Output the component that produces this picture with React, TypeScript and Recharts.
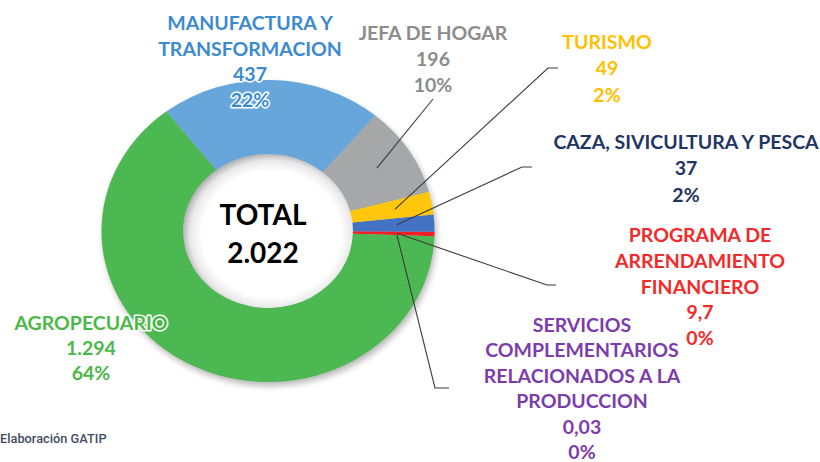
import React from 'react';
import { PieChart, Pie, Cell, Label } from 'recharts';

// ---- data ----
const categories = [
  'SERVICIOS COMPLEMENTARIOS RELACIONADOS A LA PRODUCCION',
  'PROGRAMA DE ARRENDAMIENTO FINANCIERO',
  'CAZA, SIVICULTURA Y PESCA',
  'TURISMO',
  'JEFA DE HOGAR',
  'MANUFACTURA Y TRANSFORMACION',
  'AGROPECUARIO',
];
const values = [0.03, 9.7, 37, 49, 196, 437, 1294];
const valueLabels = ['0,03', '9,7', '37', '49', '196', '437', '1.294'];
const percentLabels = ['0%', '0%', '2%', '2%', '10%', '22%', '64%'];
const totalLabel = 'TOTAL';
const totalValue = '2.022';
const sourceNote = 'Elaboración GATIP';

// ---- styles / layout ----
const sliceColors = ['#7B3AA8', '#F21F24', '#4472C4', '#FFC60B', '#A6A7A8', '#66A6DB', '#4CB851'];
const textColors = ['#7D3CAB', '#F22A2A', '#1F3564', '#FFC000', '#8C8C8C', '#3B8AD0', '#4CB848'];
const titleLines = [
  ['SERVICIOS', 'COMPLEMENTARIOS', 'RELACIONADOS A LA', 'PRODUCCION'],
  ['PROGRAMA DE', 'ARRENDAMIENTO', 'FINANCIERO'],
  ['CAZA, SIVICULTURA Y PESCA'],
  ['TURISMO'],
  ['JEFA DE HOGAR'],
  ['MANUFACTURA Y', 'TRANSFORMACION'],
  ['AGROPECUARIO'],
];
const labelPos = [
  { x: 582, y: 332, lh: 25.4, leader: [[435, 388], [449, 388]] },
  { x: 700, y: 242, lh: 25.8, leader: [[547, 285], [556, 285]] },
  { x: 686, y: 149, lh: 26.3, leader: [[522, 167], [532, 167]] },
  { x: 607, y: 49, lh: 26.3, leader: [[548, 68], [558, 68]] },
  { x: 433, y: 40, lh: 25.8, leader: [[433, 99]] },
  { x: 250, y: 30, lh: 25.7, leader: null },
  { x: 91, y: 330, lh: 25, leader: null },
];
const haloFrom = [99, 99, 99, 99, 99, 2, 0];

const CX = 268;
const CY = 231;
const R_IN = 77;
const R_OUT = 151;
const SX = 1.103; // horizontal stretch of the ring
const RAD = Math.PI / 180;
const FONT = 'Lato, "Noto Sans", sans-serif';
const FS = 19.5;

const data = categories.map((name, i) => ({ name, value: values[i] }));

const pt = (cx: number, cy: number, r: number, a: number) => [
  cx + SX * r * Math.cos(a * RAD),
  cy - r * Math.sin(a * RAD),
];

const EllipseSector = (props: any) => {
  const { cx, cy, innerRadius, outerRadius, startAngle, endAngle, fill } = props;
  const large = Math.abs(endAngle - startAngle) > 180 ? 1 : 0;
  const sweepOut = endAngle > startAngle ? 0 : 1;
  const sweepIn = sweepOut ? 0 : 1;
  const [x1, y1] = pt(cx, cy, outerRadius, startAngle);
  const [x2, y2] = pt(cx, cy, outerRadius, endAngle);
  const [x3, y3] = pt(cx, cy, innerRadius, endAngle);
  const [x4, y4] = pt(cx, cy, innerRadius, startAngle);
  const d = `M${x1},${y1} A${SX * outerRadius},${outerRadius} 0 ${large} ${sweepOut} ${x2},${y2} L${x3},${y3} A${SX * innerRadius},${innerRadius} 0 ${large} ${sweepIn} ${x4},${y4} Z`;
  return <path d={d} fill={fill} stroke="none" />;
};

const renderLabel = (props: any) => {
  const { cx, cy, midAngle, index } = props;
  const pos = labelPos[index];
  const lines = [...titleLines[index], valueLabels[index], percentLabels[index]];
  const color = textColors[index];
  let leader = null;
  if (pos.leader) {
    const [sx, sy] = pt(cx, cy, 117, midAngle);
    const pts = [[sx, sy], ...pos.leader].map((p) => p.join(',')).join(' ');
    leader = <polyline points={pts} fill="none" stroke="#3a3a3a" strokeWidth={1.1} />;
  }
  return (
    <g key={`lbl-${index}`}>
      {leader}
      {lines.map((t, k) => {
        const halo = k >= haloFrom[index];
        return (
          <text
            key={k}
            x={pos.x}
            y={pos.y + k * pos.lh}
            textAnchor="middle"
            fill={color}
            fontFamily={FONT}
            fontWeight={700}
            fontSize={FS}
            stroke={halo ? '#ffffff' : 'none'}
            strokeWidth={halo ? 3 : 0}
            strokeLinejoin="round"
            paintOrder="stroke"
          >
            {t}
          </text>
        );
      })}
    </g>
  );
};

const CenterLabel = (props: any) => {
  const vb = props.viewBox || {};
  const cx = vb.cx ?? CX;
  return (
    <g>
      <text x={cx - 5} y={225} textAnchor="middle" fill="#000" fontFamily={FONT} fontWeight={700} fontSize={28}>
        {totalLabel}
      </text>
      <text x={cx - 5} y={263} textAnchor="middle" fill="#000" fontFamily={FONT} fontWeight={700} fontSize={28}>
        {totalValue}
      </text>
    </g>
  );
};

export default function App() {
  return (
    <div style={{ position: 'absolute', left: 0, top: 0, width: 820, height: 462, background: '#fff' }}>
      <svg width={820} height={462} style={{ position: 'absolute', left: 0, top: 0 }}>
        <defs>
          <filter id="shadowBlur" x="-20%" y="-20%" width="140%" height="140%">
            <feGaussianBlur stdDeviation="3" />
          </filter>
          <radialGradient id="holeGrad" cx="0.52" cy="0.52" r="0.52">
            <stop offset="0.78" stopColor="#ffffff" />
            <stop offset="0.91" stopColor="#e8e8e8" />
            <stop offset="1" stopColor="#b0b0b0" />
          </radialGradient>
        </defs>
        <ellipse cx={CX + 2} cy={CY + 4} rx={SX * R_OUT} ry={R_OUT} fill="#000" opacity={0.28} filter="url(#shadowBlur)" />
        <ellipse cx={CX} cy={CY} rx={SX * R_IN + 1} ry={R_IN + 1} fill="url(#holeGrad)" />
        <text x={0} y={443} fill="#3f4d63" fontFamily="Roboto, sans-serif" fontWeight={500} fontSize={12.8}>
          {sourceNote}
        </text>
      </svg>
      <div style={{ position: 'absolute', left: 0, top: 0 }}>
        <PieChart width={820} height={462} margin={{ top: 0, right: 0, bottom: 0, left: 0 }}>
          <Pie
            data={data}
            dataKey="value"
            nameKey="name"
            cx={CX}
            cy={CY}
            innerRadius={R_IN}
            outerRadius={R_OUT}
            startAngle={-2}
            endAngle={358}
            stroke="none"
            shape={EllipseSector}
            label={renderLabel}
            labelLine={false}
            isAnimationActive={false}
          >
            {data.map((d, i) => (
              <Cell key={d.name} fill={sliceColors[i]} />
            ))}
            <Label position="center" content={CenterLabel} />
          </Pie>
        </PieChart>
      </div>
    </div>
  );
}
